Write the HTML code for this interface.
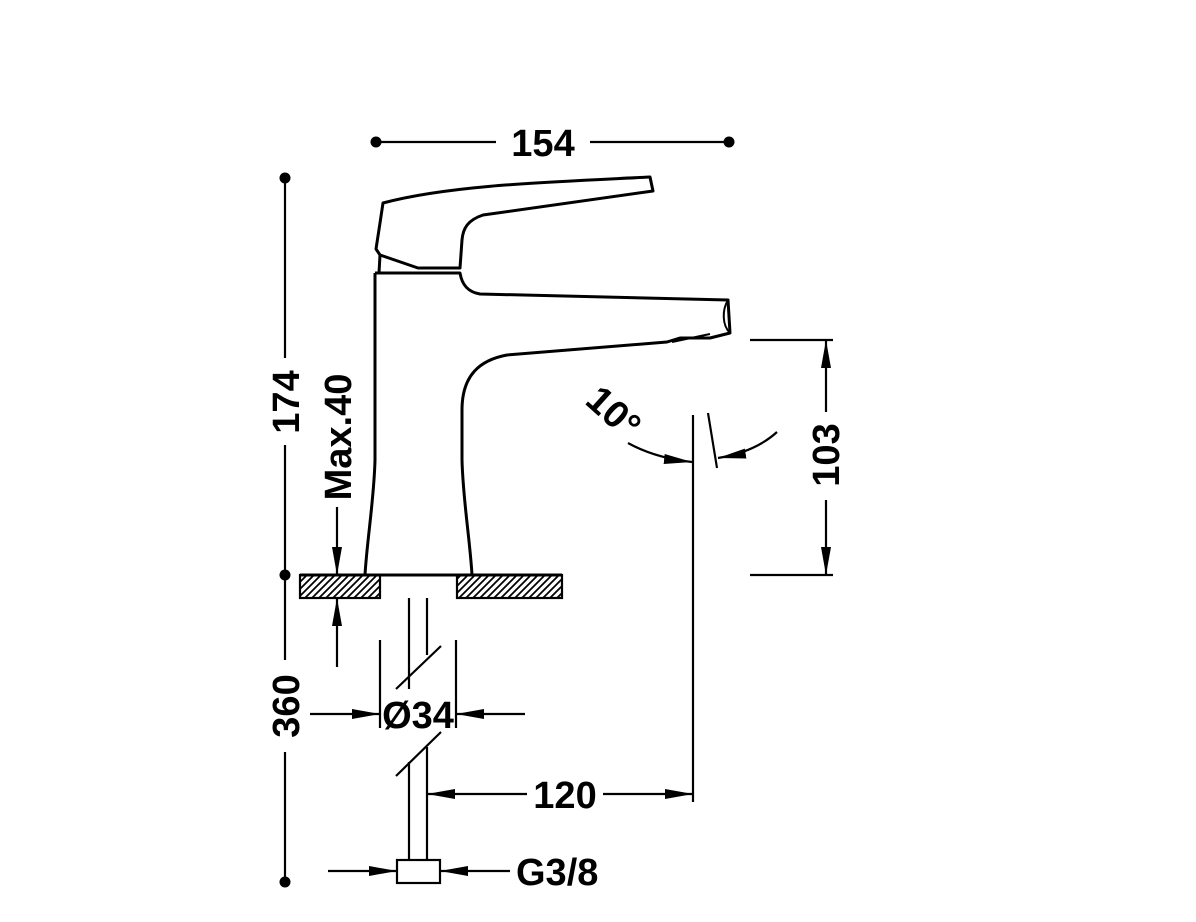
<!DOCTYPE html>
<html><head><style>
html,body{margin:0;padding:0;background:#fff}
svg{display:block}
text{font-family:"Liberation Sans",Arial,sans-serif;font-weight:bold;font-size:38px;fill:#000}
</style></head><body>
<svg width="1196" height="922" viewBox="0 0 1196 922" xmlns="http://www.w3.org/2000/svg">
<defs>
<marker id="b" viewBox="0 0 28 12" refX="28" refY="6" markerWidth="28" markerHeight="12" markerUnits="userSpaceOnUse" orient="auto"><path d="M0,1 L28,6 L0,11 z" fill="#000"/></marker>
<pattern id="h" width="7" height="7" patternUnits="userSpaceOnUse"><path d="M-2,9 L9,-2 M-2,2 L2,-2 M5,9 L9,5" stroke="#000" stroke-width="1.8"/></pattern>
</defs>
<g fill="none" stroke="#000" stroke-width="2.2">
<line x1="376" y1="142" x2="496" y2="142"/><line x1="590" y1="142" x2="729" y2="142"/>
<line x1="285" y1="178" x2="285" y2="358"/><line x1="285" y1="445" x2="285" y2="575"/>
<line x1="285" y1="575" x2="285" y2="660"/><line x1="285" y1="752" x2="285" y2="882"/>
<line x1="337" y1="507" x2="337" y2="575" marker-end="url(#b)"/>
<line x1="337" y1="667" x2="337" y2="598" marker-end="url(#b)"/>
</g>
<g fill="none" stroke="#000" stroke-width="3" stroke-linejoin="round">
<path d="M383,203 C450,185 550,182 650,177 L653,191 L483,215 C468,220 463,228 462,240 L460,268 L418,268 L380,255 L376,249 L380,223 Z"/>
<path d="M380,255 L379,273"/>
<path d="M375,273 L460,273 C462,285 468,292 480,294 L728,300 L730,333 L710,338 L680,338 L667,342 L507,355 C480,360 462,375 462,410 L462,460 C463,500 470,540 472,575"/>
<path d="M375,273 L375,460 C374,500 367,540 365,575"/>
<path d="M728,300 C722,310 722,325 730,333" stroke-width="2"/>
<path d="M672,342 L710,334" stroke-width="2"/>
<line x1="300" y1="575" x2="562" y2="575"/>
</g>
<g fill="none" stroke="#000" stroke-width="2.2">
<rect x="300" y="575" width="80" height="23" fill="url(#h)"/>
<rect x="457" y="575" width="105" height="23" fill="url(#h)"/>
<line x1="409" y1="598" x2="409" y2="689"/><line x1="427" y1="598" x2="427" y2="655"/>
<line x1="396" y1="689" x2="441" y2="646"/>
<line x1="396" y1="776" x2="441" y2="732"/>
<line x1="409" y1="762" x2="409" y2="860"/><line x1="427" y1="747" x2="427" y2="860"/>
<rect x="397" y="860" width="43" height="23"/>
<line x1="380" y1="640" x2="380" y2="728"/><line x1="456" y1="640" x2="456" y2="728"/>
<line x1="310" y1="714" x2="380" y2="714" marker-end="url(#b)"/>
<line x1="525" y1="714" x2="456" y2="714" marker-end="url(#b)"/>
<line x1="527" y1="794" x2="427" y2="794" marker-end="url(#b)"/>
<line x1="603" y1="794" x2="693" y2="794" marker-end="url(#b)"/>
<line x1="693" y1="415" x2="693" y2="802"/>
<line x1="708" y1="413" x2="717" y2="468"/>
<path d="M628,443 Q655,458 692,462" marker-end="url(#b)"/>
<path d="M777,432 Q755,452 718,458" marker-end="url(#b)"/>
<line x1="750" y1="340" x2="833" y2="340"/><line x1="750" y1="575" x2="833" y2="575"/>
<line x1="826" y1="412" x2="826" y2="340" marker-end="url(#b)"/>
<line x1="826" y1="500" x2="826" y2="575" marker-end="url(#b)"/>
<line x1="328" y1="871" x2="397" y2="871" marker-end="url(#b)"/>
<line x1="510" y1="871" x2="440" y2="871" marker-end="url(#b)"/>
</g>
<g fill="#000">
<circle cx="376" cy="142" r="5.5"/><circle cx="729" cy="142" r="5.5"/>
<circle cx="285" cy="178" r="5.5"/><circle cx="285" cy="575" r="5.5"/><circle cx="285" cy="882" r="5.5"/>
</g>
<text x="543" y="156" text-anchor="middle">154</text>
<text transform="translate(299,402) rotate(-90)" text-anchor="middle">174</text>
<text transform="translate(299,706) rotate(-90)" text-anchor="middle">360</text>
<text transform="translate(351,437) rotate(-90)" text-anchor="middle">Max.40</text>
<text transform="translate(839,455) rotate(-90)" text-anchor="middle">103</text>
<text transform="translate(605,422) rotate(42)" text-anchor="middle">10°</text>
<text x="418" y="728" text-anchor="middle">Ø34</text>
<text x="565" y="808" text-anchor="middle">120</text>
<text x="516" y="885">G3/8</text>
</svg>
</body></html>
